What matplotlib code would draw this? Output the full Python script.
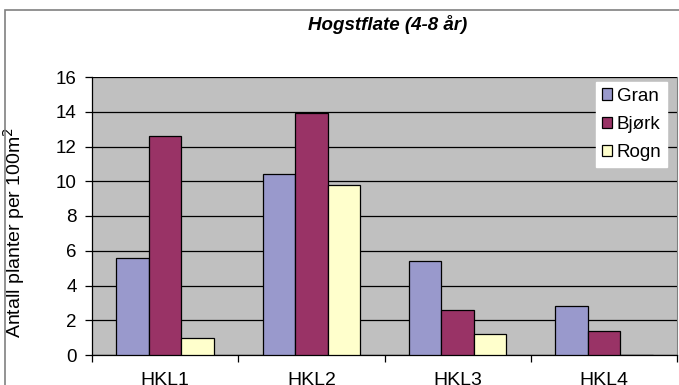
import matplotlib
matplotlib.use("Agg")
import matplotlib.pyplot as plt
import numpy as np
from matplotlib.patches import Rectangle

categories = ["HKL1", "HKL2", "HKL3", "HKL4"]
series_names = ["Gran", "Bjørk", "Rogn"]
gran = [5.6, 10.4, 5.4, 2.8]
bjork = [12.6, 13.9, 2.6, 1.4]
rogn = [1.0, 9.8, 1.2, 0.0]
yticks = [0, 2, 4, 6, 8, 10, 12, 14, 16]

colors = ["#9999CC", "#993366", "#FFFFCC"]
FONT = "Liberation Sans"

W, H = 679, 385
fig = plt.figure(figsize=(W / 100, H / 100), dpi=100)
fig.patch.set_facecolor("white")

# outer chart frame
fig.add_artist(Rectangle((5 / W, -0.1), 1.2, (H - 10) / H + 0.1,
                         transform=fig.transFigure, fill=False,
                         edgecolor="#808080", linewidth=1.2))

left, right, top, bottom = 92, 677, 77, 355
ax = fig.add_axes([left / W, 1 - bottom / H, (right - left) / W, (bottom - top) / H])
ax.set_facecolor("#C0C0C0")

x = np.arange(len(categories))
bw = 1 / 4.5
for i, (vals, name, col) in enumerate(zip([gran, bjork, rogn], series_names, colors)):
    ax.bar(x - bw + i * bw, vals, width=bw, color=col, edgecolor="black",
           linewidth=0.9, label=name, zorder=3)

ax.set_xlim(-0.5, len(categories) - 0.5)
ax.set_ylim(0, 16)
ax.set_yticks(yticks)
ax.set_yticklabels([str(v) for v in yticks], fontsize=13.5, family=FONT)
ax.yaxis.grid(True, color="black", linewidth=0.9, zorder=1)
ax.set_axisbelow(True)

ax.set_xticks(np.arange(len(categories) + 1) - 0.5, minor=False)
ax.set_xticklabels([""] * (len(categories) + 1))
ax.set_xticks(x, minor=True)
ax.set_xticklabels(categories, minor=True, fontsize=14, family=FONT)
ax.tick_params(axis="x", which="minor", length=0, pad=12.5)
ax.tick_params(axis="x", which="major", length=5, direction="out", width=0.9)
ax.tick_params(axis="y", length=5, direction="out", width=0.9, pad=6)

ax.spines["top"].set_visible(False)
ax.spines["right"].set_color("#808080")
ax.spines["left"].set_linewidth(0.9)
ax.spines["bottom"].set_linewidth(0.9)

ax.set_ylabel("Antall planter per 100m$^2$", fontsize=14, family=FONT)
ax.yaxis.set_label_coords((27 - left) / (right - left), (bottom - 232) / (bottom - top))

fig.text(388 / W, 1 - 25 / H, "Hogstflate (4-8 år)", ha="center", va="center",
         fontsize=13.5, fontweight="bold", fontstyle="italic", family=FONT)

leg = ax.legend(loc="upper right",
                bbox_to_anchor=((667 - left) / (right - left), (bottom - 82) / (bottom - top)),
                frameon=True, fancybox=False, edgecolor="white", facecolor="white",
                framealpha=1, fontsize=13.5, handlelength=0.55, handleheight=0.55,
                handletextpad=0.25, labelspacing=0.6, borderpad=0.3, borderaxespad=0)
for t in leg.get_texts():
    t.set_family(FONT)

fig.savefig("out.png", dpi=100)
